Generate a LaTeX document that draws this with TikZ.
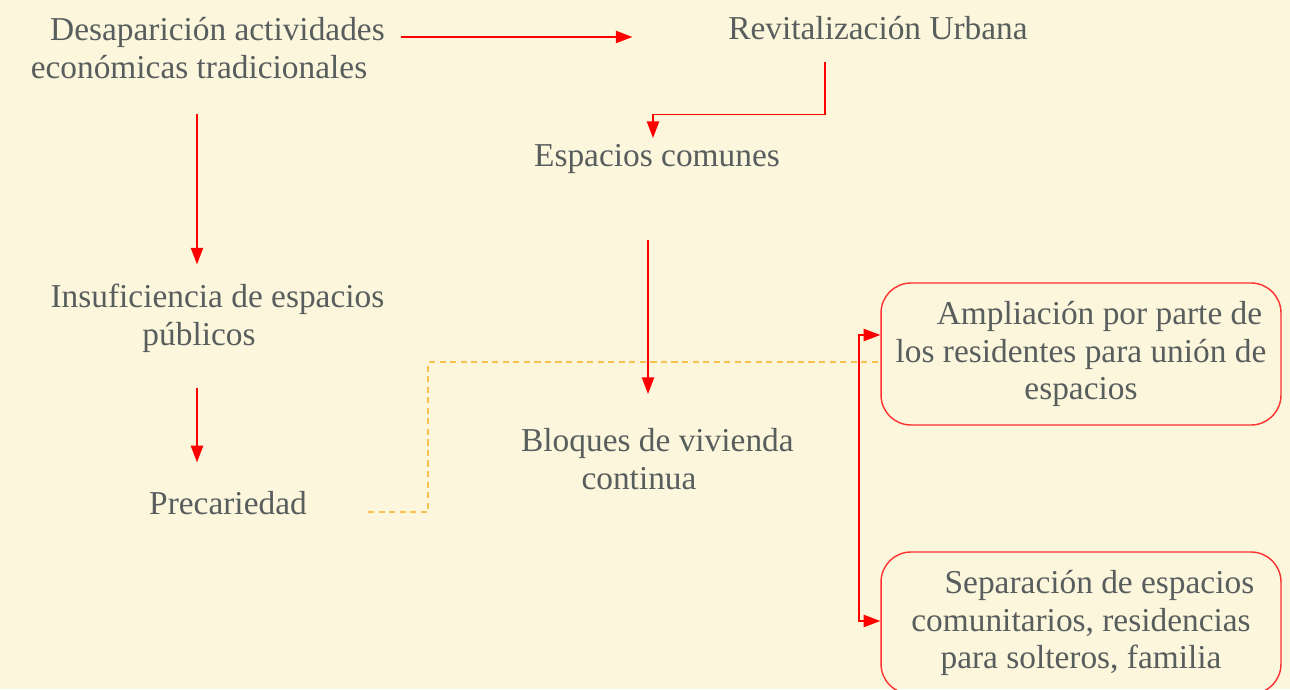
\documentclass[tikz,border=0pt]{standalone}
\usepackage{fontspec}
\setmainfont{Liberation Serif}
\usetikzlibrary{arrows.meta,positioning}
\definecolor{fondo}{HTML}{FCF7DC}
\definecolor{texto}{HTML}{585D5D}
\definecolor{rojo}{HTML}{FF0000}
\definecolor{borde}{HTML}{FF3030}
\definecolor{amarillo}{HTML}{F7C24E}
\newcommand{\sangria}{\hspace*{21pt}}
\tikzset{
  txt/.style={text=texto, align=center, inner sep=2pt,
    font=\fontsize{19}{21.5}\selectfont},
  caja/.style={txt, draw=borde, line width=0.8pt, rounded corners=17pt,
    minimum width=8cm, minimum height=2.84cm},
  flecha/.style={draw=rojo, line width=0.8pt, -{Triangle[length=9.5pt,width=7pt]}},
  punteada/.style={draw=amarillo, line width=0.8pt, dash pattern=on 3.5pt off 2.5pt}
}
\begin{document}
\begin{tikzpicture}[x=0.02cm, y=-0.02cm]
  % --- fondo ---
  \fill[fondo] (0,0) rectangle (1290,689);
  \useasboundingbox (0,0) rectangle (1290,689);
  % --- nodos ---
  \node[txt] (desap) at (199,48) {\sangria Desaparición actividades\\económicas tradicionales};
  \node[txt] (revit) at (878,28) {Revitalización Urbana};
  \node[txt] (comunes) at (657,159) {Espacios comunes};
  \node[txt] (insuf) at (199,318) {\sangria Insuficiencia de espacios\\públicos};
  \node[txt] (prec) at (228,503) {Precariedad};
  \node[txt] (bloques) at (639,459) {\sangria Bloques de vivienda\\continua};
  \node[caja] (ampl) at (1081,354) {\sangria Ampliación por parte de\\los residentes para unión de\\espacios};
  \node[caja] (separ) at (1081,623) {\sangria Separación de espacios\\comunitarios, residencias\\para solteros, familia};
  \coordinate (horq) at (859,478);
  % --- flechas ---
  \draw[flecha] ([shift={(12,-11)}]desap.east) -- ([shift={(-92,9)}]revit.west);
  \draw[flecha] ([shift={(-53,18)}]revit.south) -- ++(0,53) -| ([shift={(-4,-2.5)}]comunes.north);
  \draw[flecha] ([shift={(-2,31)}]desap.south) -- ([shift={(-2,-15.5)}]insuf.north);
  \draw[flecha] ([shift={(-2,31.5)}]insuf.south) -- ([shift={(-31,-25)}]prec.north);
  \draw[flecha] ([shift={(-9,62.5)}]comunes.south) -- ([shift={(9,-30.5)}]bloques.north);
  % --- union con las cajas ---
  \draw[punteada] ([shift={(57.5,9)}]prec.east) -- ++(60,0) |- ([yshift=-8*0.02cm]ampl.west);
  \draw[flecha] (horq) |- ([yshift=19*0.02cm]ampl.west);
  \draw[flecha] (horq) |- ([yshift=2*0.02cm]separ.west);
\end{tikzpicture}
\end{document}
